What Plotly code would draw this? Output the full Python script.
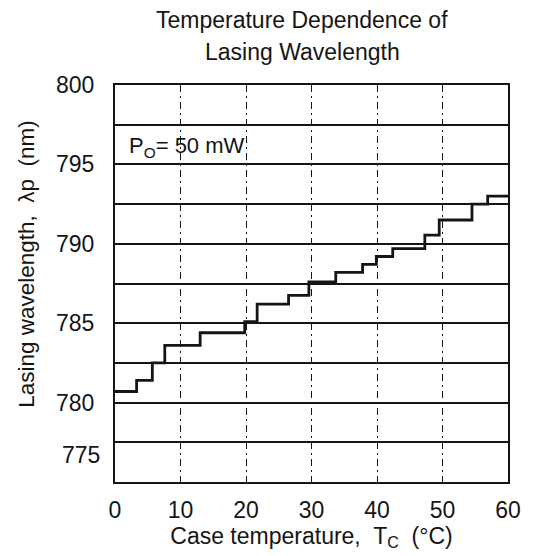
import plotly.graph_objects as go

# Data (step starts, hv staircase)
case_temp_c = [0, 3.3, 5.7, 7.6, 13.0, 19.8, 21.7, 26.5, 29.6, 33.7, 37.8, 39.9,
               42.4, 47.3, 49.5, 54.5, 56.9, 60]
lasing_wavelength_nm = [780.7, 781.4, 782.5, 783.6, 784.4, 785.1, 786.2, 786.75,
                        787.6, 788.2, 788.7, 789.2, 789.7, 790.55, 791.5, 792.5,
                        793.0, 793.0]
x_ticks = [0, 10, 20, 30, 40, 50, 60]
y_ticks = [780, 785, 790, 795, 800]
y_bottom_label = 775
title_lines = ["Temperature Dependence of", "Lasing Wavelength"]

FONT = "Liberation Sans, Arial, sans-serif"
INK = "#151515"
PLOT_H = 556 - 85 - 73

fig = go.Figure()
fig.add_trace(go.Scatter(
    x=case_temp_c, y=lasing_wavelength_nm, mode="lines",
    line=dict(color=INK, width=2.8, shape="hv"),
    showlegend=False, hoverinfo="skip"))

fig.update_layout(
    width=533, height=556,
    margin=dict(l=115, r=15, t=85, b=73),
    paper_bgcolor="white", plot_bgcolor="white",
    font=dict(family=FONT, size=23, color=INK),
)

fig.update_xaxes(
    range=[0, 60], tickvals=x_ticks, ticks="", ticklabelstandoff=6,
    showline=True, mirror=True, linecolor=INK, linewidth=2,
    showgrid=True, gridcolor=INK, gridwidth=1, griddash="7px,4px,2px,4px",
    zeroline=False,
    tickfont=dict(family=FONT, size=23, color=INK),
    title=dict(text="Case temperature,\u00a0 T<sub>C</sub>\u00a0 (°C)",
               font=dict(family=FONT, size=23, color=INK), standoff=5),
)
fig.update_yaxes(
    range=[775, 800], tickvals=y_ticks, ticks="", ticklabelstandoff=14,
    showline=True, mirror=True, linecolor=INK, linewidth=2,
    showgrid=True, gridcolor=INK, gridwidth=2,
    minor=dict(dtick=2.5, tick0=775, showgrid=True, gridcolor=INK, gridwidth=2),
    zeroline=False,
    tickfont=dict(family=FONT, size=23, color=INK),
)

# title (two lines, placed separately for the reference's line spacing)
for line_text, center_px in zip(title_lines, [20, 52]):
    fig.add_annotation(x=(307 - 115) / 403, xref="paper",
                       y=1 + (85 - center_px) / PLOT_H, yref="paper",
                       text=line_text, showarrow=False,
                       xanchor="center", yanchor="middle",
                       font=dict(family=FONT, size=23, color=INK))
# raised bottom y tick label, as in the reference
fig.add_annotation(x=0, xref="paper", y=y_bottom_label, yref="y",
                   text=str(y_bottom_label), showarrow=False,
                   xanchor="right", xshift=-13, yshift=27,
                   font=dict(family=FONT, size=23, color=INK))
# y axis title
fig.add_annotation(x=(24 - 115) / 403, xref="paper", y=(483 - 264) / PLOT_H, yref="paper",
                   text="Lasing wavelength,\u00a0 λp\u00a0 (nm)", textangle=-90,
                   showarrow=False, xanchor="center", yanchor="middle",
                   font=dict(family=FONT, size=22.5, color=INK))
# power label
fig.add_annotation(x=1.8, xref="x", y=796.1, yref="y",
                   text="P<sub>O</sub>= 50 mW", showarrow=False,
                   xanchor="left", yanchor="middle",
                   font=dict(family=FONT, size=22, color=INK))

fig.write_html("out.html")
